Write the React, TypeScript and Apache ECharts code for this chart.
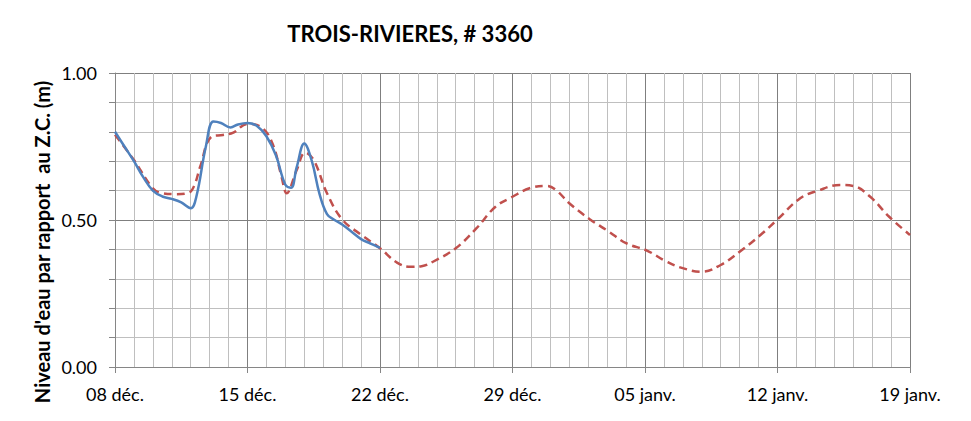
import React, { useEffect, useRef } from "react";
import * as echarts from "echarts";

const titleText = "TROIS-RIVIERES, # 3360";
const yAxisName = "Niveau d'eau par rapport  au Z.C. (m)";
const xTickLabels = ["08 déc.", "15 déc.", "22 déc.", "29 déc.", "05 janv.", "12 janv.", "19 janv."];

// day offsets from 08 déc.
const observedDays = [0, 0.5, 1, 1.5, 2, 2.5, 3, 3.5, 4, 4.3, 4.8, 5.2, 5.6, 6.1, 6.5, 7, 7.5, 8, 8.5, 9, 9.3, 9.6, 10, 10.4, 10.8, 11.2, 11.6, 12, 12.5, 13, 13.5, 14];
const observedValues = [0.80, 0.75, 0.70, 0.645, 0.60, 0.58, 0.572, 0.56, 0.54, 0.58, 0.75, 0.835, 0.83, 0.815, 0.825, 0.83, 0.82, 0.785, 0.72, 0.62, 0.61, 0.68, 0.76, 0.70, 0.59, 0.52, 0.50, 0.485, 0.46, 0.435, 0.42, 0.405];

const predictedDays = [0, 1, 2, 2.5, 3.2, 3.9, 4.2, 4.5, 5.1, 5.7, 6.25, 7, 7.8, 8.35, 8.8, 9.07, 9.6, 10.05, 10.5, 11.2, 12, 13, 14, 14.9, 15.6, 16.2, 16.8, 18, 19.1, 20.1, 21, 21.9, 22.8, 23.3, 24, 25.1, 26.1, 27, 28.1, 29.1, 29.9, 31, 32, 33, 34.1, 35, 36.2, 37.1, 38.3, 39, 39.9, 40.9, 42];
const predictedValues = [0.79, 0.704, 0.608, 0.591, 0.588, 0.593, 0.619, 0.681, 0.783, 0.789, 0.797, 0.827, 0.812, 0.755, 0.647, 0.591, 0.67, 0.729, 0.704, 0.591, 0.502, 0.45, 0.404, 0.355, 0.341, 0.343, 0.358, 0.404, 0.472, 0.545, 0.579, 0.608, 0.616, 0.602, 0.557, 0.502, 0.46, 0.421, 0.396, 0.36, 0.338, 0.324, 0.347, 0.392, 0.449, 0.502, 0.574, 0.599, 0.619, 0.616, 0.579, 0.511, 0.449];

const FONT = "Lato, 'Open Sans', sans-serif";

export default function App() {
  const ref = useRef<HTMLDivElement>(null);
  useEffect(() => {
    if (!ref.current) return;
    const chart = echarts.init(ref.current, undefined, { renderer: "svg" });
    chart.setOption({
      animation: false,
      backgroundColor: "#ffffff",
      title: {
        text: titleText,
        left: 405,
        top: 17,
        textAlign: "center",
        textStyle: { fontFamily: FONT, fontWeight: "bold", fontSize: 22, color: "#000" },
      },
      graphic: [
        {
          type: "text",
          x: 42,
          y: 242,
          rotation: Math.PI / 2,
          style: {
            text: yAxisName,
            fontFamily: FONT,
            fontWeight: "bold",
            fontSize: 20,
            fill: "#000",
            align: "center",
            verticalAlign: "middle",
          },
        },
      ],
      grid: { left: 115, right: 61, top: 73, bottom: 54, containLabel: false },
      xAxis: {
        type: "value",
        min: 0,
        max: 42,
        interval: 7,
        axisLine: { show: true, lineStyle: { color: "#868686", width: 1 } },
        axisTick: { show: true, length: 6, lineStyle: { color: "#868686" } },
        minorTick: { show: false, splitNumber: 7 },
        splitLine: { show: true, lineStyle: { color: "#7f7f7f", width: 1 } },
        minorSplitLine: { show: true, lineStyle: { color: "#bfbfbf", width: 1 } },
        axisLabel: {
          margin: 18,
          fontFamily: FONT,
          fontSize: 18,
          color: "#000",
          formatter: (v: number) => xTickLabels[Math.round(v / 7)] ?? "",
        },
      },
      yAxis: {
        type: "value",
        min: 0,
        max: 1,
        interval: 0.5,
        axisLine: { show: true, lineStyle: { color: "#868686", width: 1 } },
        axisTick: { show: true, length: 6, lineStyle: { color: "#868686" } },
        minorTick: { show: true, splitNumber: 5, length: 6, lineStyle: { color: "#868686" } },
        splitLine: { show: true, lineStyle: { color: "#7f7f7f", width: 1 } },
        minorSplitLine: { show: true, lineStyle: { color: "#bfbfbf", width: 1 } },
        axisLabel: {
          margin: 18,
          fontFamily: FONT,
          fontSize: 18,
          color: "#000",
          formatter: (v: number) => v.toFixed(2),
        },
      },
      series: [
        {
          name: "Observé",
          type: "line",
          smooth: 0.4,
          showSymbol: false,
          data: observedDays.map((d, i) => [d, observedValues[i]]),
          lineStyle: { color: "#4F81BD", width: 2.5 },
          z: 3,
        },
        {
          name: "Prédit",
          type: "line",
          smooth: 0.4,
          showSymbol: false,
          data: predictedDays.map((d, i) => [d, predictedValues[i]]),
          lineStyle: { color: "#C0504D", width: 2.5, type: [8, 5] },
          z: 2,
        },
      ],
    });
    return () => chart.dispose();
  }, []);
  return <div ref={ref} style={{ width: 971, height: 421, margin: -8 }} />;
}
